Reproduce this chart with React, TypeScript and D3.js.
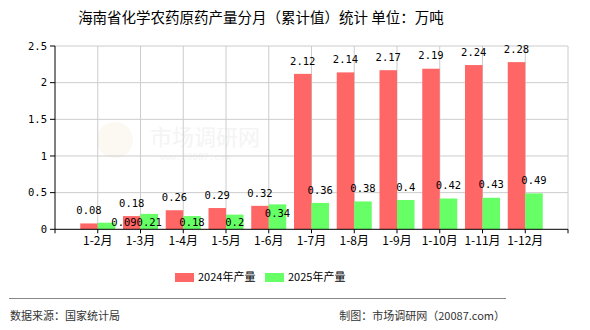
import React from "react";
import * as d3 from "d3";

const categories = ["1-2月", "1-3月", "1-4月", "1-5月", "1-6月", "1-7月", "1-8月", "1-9月", "1-10月", "1-11月", "1-12月"];
const values2024 = [0.08, 0.18, 0.26, 0.29, 0.32, 2.12, 2.14, 2.17, 2.19, 2.24, 2.28];
const values2025 = [0.09, 0.21, 0.18, 0.2, 0.34, 0.36, 0.38, 0.4, 0.42, 0.43, 0.49];
const yTicks = [0, 0.5, 1, 1.5, 2, 2.5];
const seriesNames = ["2024年产量", "2025年产量"];

const RED = "#FF6666";
const GREEN = "#66FF66";
const NUM_FONT = "'DejaVu Sans Mono', monospace";
const CJK_FONT = "'Noto Sans CJK SC', 'Noto Sans', sans-serif";

export default function App() {
  const W = 590, H = 330;
  const left = 55, right = 568, top = 46, bottom = 229.3;
  const x = d3.scaleLinear().domain([-1, categories.length]).range([left, right]);
  const y = d3.scaleLinear().domain([0, 2.5]).range([bottom, top]);
  const bw = 17.5;
  const fmt = (v: number) => String(v);
  const charW = 6.3;

  const redLabels = values2024.map((v, i) => {
    const cx = x(i) - bw / 2;
    const cy = y(v) - 13;
    const w = fmt(v).length * charW;
    return { cx, cy, w, text: fmt(v) };
  });
  const greenLabels = values2025.map((v, i) => {
    let cx = x(i) + bw / 2;
    let cy = y(v) - 13;
    const w = fmt(v).length * charW;
    const r = redLabels[i];
    const overlapX = Math.abs(cx - r.cx) < (w + r.w) / 2;
    const overlapY = Math.abs(cy - r.cy) < 11;
    if (overlapX && overlapY) {
      const inside = y(v) + 9;
      cy = Math.min(inside, bottom - 6.5);
      if (y(v) > bottom - 10) cx += bw;
    }
    return { cx, cy, text: fmt(v) };
  });

  return (
    <svg width={W} height={H} style={{ position: "absolute", left: 0, top: 0, background: "#fff" }}>
      <rect x={0} y={0} width={W} height={H} fill="#fff" />
      <text x={261} y={23} textAnchor="middle" fontFamily={CJK_FONT} fontSize={14.5} fill="#000">
        海南省化学农药原药产量分月（累计值）统计 单位：万吨
      </text>
      {/* watermark */}
      <circle cx={115} cy={140} r={18} fill="#fcf9f2" />
      <text x={150} y={145} fontFamily={CJK_FONT} fontSize={22} fill="#f4f4f4">市场调研网</text>
      <text x={160} y={160} fontFamily={NUM_FONT} fontSize={9} fill="#f6f6f6">www.20087.com</text>
      {/* grid */}
      {yTicks.filter(t => t > 0).map(t => (
        <line key={"h" + t} x1={left} x2={right} y1={y(t)} y2={y(t)} stroke="#cccccc" strokeWidth={1} />
      ))}
      {d3.range(0, categories.length + 1).map(i => (
        <line key={"v" + i} x1={x(i)} x2={x(i)} y1={top} y2={bottom} stroke="#cccccc" strokeWidth={1} />
      ))}
      {/* bars */}
      {values2024.map((v, i) => (
        <rect key={"r" + i} x={x(i) - bw} y={y(v)} width={bw} height={bottom - y(v)} fill={RED} />
      ))}
      {values2025.map((v, i) => (
        <rect key={"g" + i} x={x(i)} y={y(v)} width={bw} height={bottom - y(v)} fill={GREEN} />
      ))}
      {/* axes */}
      <line x1={left} x2={left} y1={top} y2={bottom} stroke="#000" />
      <line x1={left} x2={right} y1={bottom} y2={bottom} stroke="#000" />
      {yTicks.map(t => (
        <g key={"yt" + t}>
          <line x1={left - 5} x2={left} y1={y(t)} y2={y(t)} stroke="#000" />
          <text x={left - 8} y={y(t)} dy="0.35em" textAnchor="end" fontFamily={NUM_FONT} fontSize={10.5} fill="#000">{fmt(t)}</text>
        </g>
      ))}
      {d3.range(-1, categories.length + 1).map(i => (
        <line key={"xt" + i} x1={x(i)} x2={x(i)} y1={bottom} y2={bottom + 4} stroke="#000" />
      ))}
      {categories.map((c, i) => (
        <text key={"xl" + i} x={x(i)} y={241} dy="0.35em" textAnchor="middle" fontFamily={CJK_FONT} fontSize={12} fill="#000">{c}</text>
      ))}
      {/* labels */}
      {redLabels.map((l, i) => (
        <text key={"rl" + i} x={l.cx} y={l.cy} dy="0.35em" textAnchor="middle" fontFamily={NUM_FONT} fontSize={10.5} fill="#000">{l.text}</text>
      ))}
      {greenLabels.map((l, i) => (
        <text key={"gl" + i} x={l.cx} y={l.cy} dy="0.35em" textAnchor="middle" fontFamily={NUM_FONT} fontSize={10.5} fill="#000">{l.text}</text>
      ))}
      {/* legend */}
      <rect x={175} y={273} width={19} height={9} fill={RED} />
      <text x={198} y={277.5} dy="0.35em" fontFamily={CJK_FONT} fontSize={11} fill="#000">{seriesNames[0]}</text>
      <rect x={265} y={273} width={19} height={9} fill={GREEN} />
      <text x={288} y={277.5} dy="0.35em" fontFamily={CJK_FONT} fontSize={11} fill="#000">{seriesNames[1]}</text>
      {/* footer */}
      <line x1={9} x2={506} y1={298.5} y2={298.5} stroke="#888" strokeWidth={1} />
      <text x={10} y={316.5} dy="0.35em" fontFamily={CJK_FONT} fontSize={11} fill="#333">数据来源：国家统计局</text>
      <text x={505} y={316.5} dy="0.35em" textAnchor="end" fontFamily={CJK_FONT} fontSize={11} fill="#333">制图：市场调研网（20087.com）</text>
    </svg>
  );
}
